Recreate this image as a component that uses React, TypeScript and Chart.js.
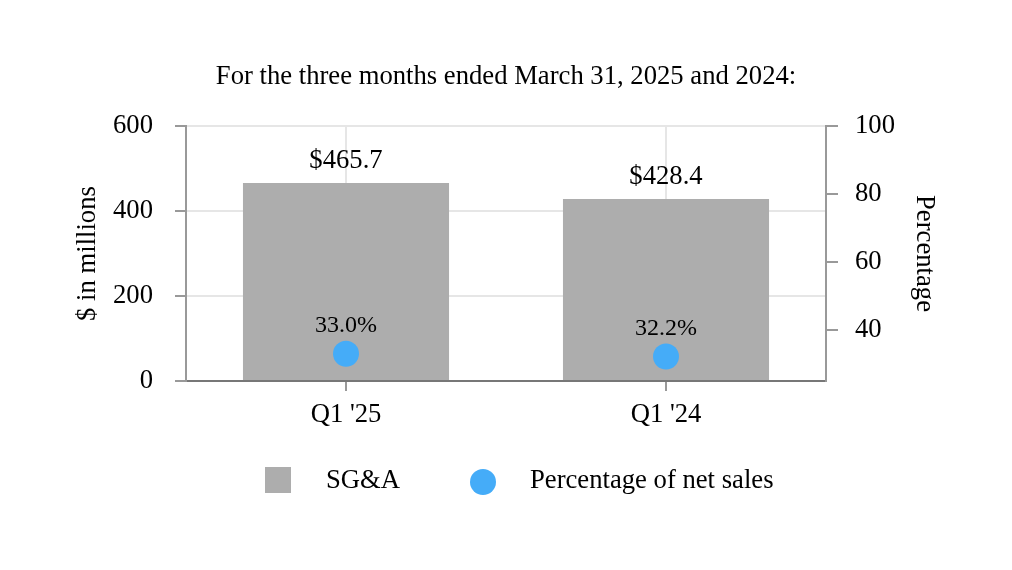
import React, { useEffect, useRef } from "react";
import { Chart, registerables } from "chart.js";

Chart.register(...registerables);

const categories = ["Q1 '25", "Q1 '24"];
const sgaValues = [465.7, 428.4];
const pctValues = [33.0, 32.2];
const sgaLabels = ["$465.7", "$428.4"];
const pctLabels = ["33.0%", "32.2%"];
const leftTicks = [0, 200, 400, 600];
const rightTicks = [40, 60, 80, 100];

const FONT = "'Liberation Serif', 'Times New Roman', serif";
const FS = 26.67;
const BAR_COLOR = "#adadad";
const DOT_COLOR = "#45acf8";

const labelPlugin = {
  id: "customLabels",
  afterDatasetsDraw(chart: any) {
    const ctx = chart.ctx;
    ctx.save();
    ctx.fillStyle = "#000";
    ctx.textAlign = "center";
    ctx.textBaseline = "alphabetic";
    const barMeta = chart.getDatasetMeta(0);
    ctx.font = `${FS}px ${FONT}`;
    barMeta.data.forEach((el: any, i: number) => {
      ctx.fillText(sgaLabels[i], el.x, el.y - 15);
    });
    const ptMeta = chart.getDatasetMeta(1);
    ctx.font = `24px ${FONT}`;
    ptMeta.data.forEach((el: any, i: number) => {
      ctx.fillText(pctLabels[i], el.x, el.y - 22);
    });
    ctx.restore();
  },
  afterDraw(chart: any) {
    const ctx = chart.ctx;
    const ca = chart.chartArea;
    const cx = (ca.left + ca.right) / 2;
    const cy = 481;
    ctx.save();
    ctx.font = `${FS}px ${FONT}`;
    ctx.textBaseline = "middle";
    ctx.textAlign = "left";
    let x = cx - 241;
    ctx.fillStyle = BAR_COLOR;
    ctx.fillRect(x, cy - 14, 26, 26);
    ctx.fillStyle = "#000";
    ctx.fillText(chart.data.datasets[0].label, x + 61, cy);
    x = cx - 36;
    ctx.fillStyle = DOT_COLOR;
    ctx.beginPath();
    ctx.arc(x + 13, cy + 1, 13, 0, Math.PI * 2);
    ctx.fill();
    ctx.fillStyle = "#000";
    ctx.fillText(chart.data.datasets[1].label, x + 60, cy);
    ctx.restore();
  },
};

export default function App() {
  const ref = useRef<HTMLCanvasElement | null>(null);
  useEffect(() => {
    if (!ref.current) return;
    const chart = new Chart(ref.current, {
      type: "bar",
      data: {
        labels: categories,
        datasets: [
          {
            type: "bar",
            label: "SG&A",
            data: sgaValues,
            backgroundColor: BAR_COLOR,
            yAxisID: "y",
            barPercentage: 0.644,
            categoryPercentage: 1.0,
            order: 2,
          } as any,
          {
            type: "line",
            label: "Percentage of net sales",
            data: pctValues,
            yAxisID: "y1",
            showLine: false,
            pointRadius: 13,
            pointHoverRadius: 13,
            pointBackgroundColor: DOT_COLOR,
            pointBorderWidth: 0,
            borderColor: DOT_COLOR,
            backgroundColor: DOT_COLOR,
            order: 1,
          } as any,
        ],
      },
      options: {
        responsive: true,
        maintainAspectRatio: false,
        animation: false,
        layout: { padding: { top: 0, bottom: 129, left: 0, right: 0 } },
        plugins: {
          legend: { display: false },
          tooltip: { enabled: false },
          title: {
            display: true,
            text: "For the three months ended March 31, 2025 and 2024:",
            color: "#000",
            font: { family: FONT, size: FS, weight: "normal" as any },
            padding: { top: 61, bottom: 33 },
          },
        },
        scales: {
          x: {
            offset: true,
            grid: {
              offset: false,
              color: "#e6e6e6",
              tickColor: "#999",
              tickLength: 10,
              lineWidth: 2,
            },
            border: { color: "#777", width: 2 },
            ticks: {
              color: "#000",
              font: { family: FONT, size: FS },
              padding: 8,
            },
            afterFit(scale: any) {
              scale.height = 60;
            },
          },
          y: {
            position: "left",
            min: 0,
            max: 600,
            afterBuildTicks(scale: any) {
              scale.ticks = leftTicks.map((v) => ({ value: v }));
            },
            grid: {
              color: "#e6e6e6",
              tickColor: "#999",
              tickLength: 11,
              lineWidth: 2,
            },
            border: { color: "#999", width: 2 },
            ticks: {
              color: "#000",
              font: { family: FONT, size: FS },
              padding: 22,
            },
            title: {
              display: true,
              text: "$ in millions",
              color: "#000",
              font: { family: FONT, size: FS },
              padding: { top: 72, bottom: 0 },
            },
            afterFit(scale: any) {
              scale.width = 186;
            },
          },
          y1: {
            position: "right",
            min: 25,
            max: 100,
            afterBuildTicks(scale: any) {
              scale.ticks = rightTicks.map((v) => ({ value: v }));
            },
            grid: {
              drawOnChartArea: false,
              color: "#999",
              tickColor: "#999",
              tickLength: 12,
              lineWidth: 2,
            },
            border: { color: "#999", width: 2 },
            ticks: {
              color: "#000",
              font: { family: FONT, size: FS },
              padding: 17,
            },
            title: {
              display: true,
              text: "Percentage",
              color: "#000",
              font: { family: FONT, size: FS },
              padding: { top: 72, bottom: 0 },
            },
            afterFit(scale: any) {
              scale.width = 186;
            },
          },
        },
      },
      plugins: [labelPlugin],
    });
    return () => chart.destroy();
  }, []);
  return (
    <div style={{ position: "absolute", left: 0, top: 0, width: 1012, height: 570, background: "#fff" }}>
      <canvas ref={ref} />
    </div>
  );
}
